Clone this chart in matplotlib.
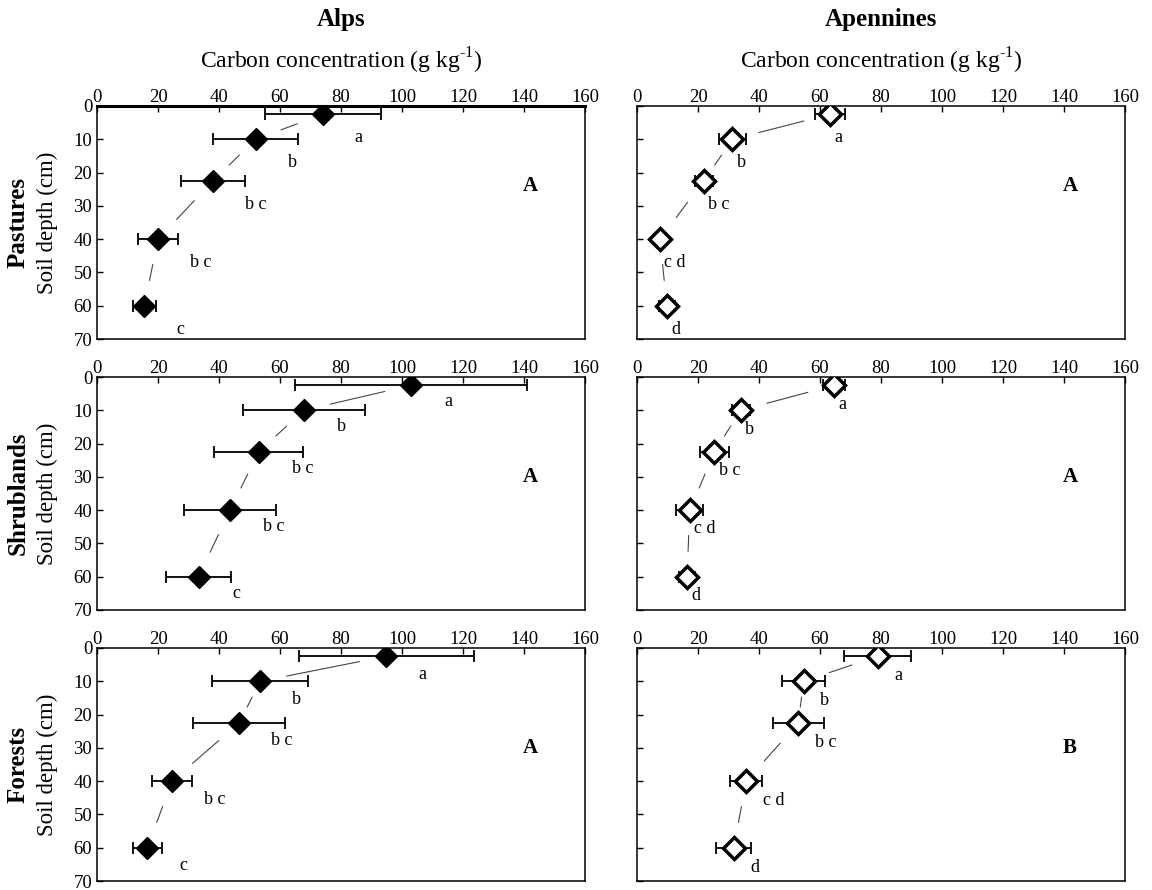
import math

import matplotlib

matplotlib.use("Agg")

import matplotlib.pyplot as plt

plt.rcParams["font.family"] = "serif"
plt.rcParams["font.serif"] = ["Liberation Serif", "DejaVu Serif"]
plt.rcParams["mathtext.fontset"] = "custom"
plt.rcParams["mathtext.rm"] = "Liberation Serif"

# soil depth of each sampled layer (cm)
DEPTHS = [2.5, 10, 22.5, 40, 60]

REGIONS = ["Alps", "Apennines"]
LAND_USES = ["Pastures", "Shrublands", "Forests"]

alps_pastures_mean = [74, 52, 38, 20, 15.5]
alps_pastures_err = [19, 14, 10.5, 6.5, 3.7]
alps_pastures_letters = ["a", "b", "b c", "b c", "c"]

apen_pastures_mean = [63.3, 31.3, 21.9, 7.5, 9.8]
apen_pastures_err = [5, 4.5, 3, 2, 2.5]
apen_pastures_letters = ["a", "b", "b c", "c d", "d"]

alps_shrub_mean = [103, 67.8, 53, 43.6, 33.3]
alps_shrub_err = [38, 20, 14.7, 15, 10.7]
alps_shrub_letters = ["a", "b", "b c", "b c", "c"]

apen_shrub_mean = [64.6, 34, 25.4, 17.3, 16.4]
apen_shrub_err = [3.5, 3, 4.7, 4.5, 2.5]
apen_shrub_letters = ["a", "b", "b c", "c d", "d"]

alps_forest_mean = [94.8, 53.5, 46.6, 24.6, 16.5]
alps_forest_err = [28.7, 15.7, 15, 6.7, 4.7]
alps_forest_letters = ["a", "b", "b c", "b c", "c"]

apen_forest_mean = [78.9, 54.6, 52.9, 35.8, 31.7]
apen_forest_err = [11, 7, 8.4, 5.2, 5.7]
apen_forest_letters = ["a", "b", "b c", "c d", "d"]

# letter comparing regions within each land use (row)
region_letters = [["A", "A"], ["A", "A"], ["A", "B"]]

panels = [
    [
        (alps_pastures_mean, alps_pastures_err, alps_pastures_letters),
        (apen_pastures_mean, apen_pastures_err, apen_pastures_letters),
    ],
    [
        (alps_shrub_mean, alps_shrub_err, alps_shrub_letters),
        (apen_shrub_mean, apen_shrub_err, apen_shrub_letters),
    ],
    [
        (alps_forest_mean, alps_forest_err, alps_forest_letters),
        (apen_forest_mean, apen_forest_err, apen_forest_letters),
    ],
]

# offsets (points) of the small letters next to each marker
letter_offsets = [
    [(23, -17), (3, -17)],
    [(24, -12), (3, -13.5)],
    [(23, -13), (12, -14)],
]

W, H = 1152, 890
col_x = [97, 637]
col_w = 488
row_top = [106, 377, 648]
row_h = 233

fig = plt.figure(figsize=(W / 100, H / 100), dpi=100)

for r, land_use in enumerate(LAND_USES):
    for c, region in enumerate(REGIONS):
        ax = fig.add_axes(
            [
                col_x[c] / W,
                1 - (row_top[r] + row_h) / H,
                col_w / W,
                row_h / H,
            ]
        )
        means, errs, letters = panels[r][c]

        ax.set_xlim(0, 160)
        ax.set_ylim(70, 0)
        ax.set_xticks(range(0, 161, 20))
        ax.set_yticks(range(0, 71, 10))
        ax.xaxis.tick_top()
        ax.tick_params(direction="in", length=4, width=1, labelsize=13.5)
        ax.tick_params(axis="x", pad=0.3)
        ax.tick_params(axis="y", pad=3.5, labelleft=(c == 0))
        for spine in ax.spines.values():
            spine.set_linewidth(1.1)
        if r == 0 and c == 0:
            ax.spines["top"].set_linewidth(2.2)

        # connecting line, broken around each marker
        for i in range(len(means) - 1):
            p1 = ax.transData.transform((means[i], DEPTHS[i]))
            p2 = ax.transData.transform((means[i + 1], DEPTHS[i + 1]))
            dist_pt = math.hypot(*(p2 - p1)) * 72 / fig.dpi
            shrink = min(19.5, 0.38 * dist_pt)
            ax.annotate(
                "",
                xy=(means[i + 1], DEPTHS[i + 1]),
                xytext=(means[i], DEPTHS[i]),
                arrowprops=dict(
                    arrowstyle="-",
                    color="#444444",
                    lw=0.8,
                    shrinkA=shrink,
                    shrinkB=shrink,
                ),
                zorder=1,
            )

        ax.errorbar(
            means,
            DEPTHS,
            xerr=errs,
            fmt="none",
            ecolor="black",
            elinewidth=1.3,
            capsize=4,
            capthick=1.3,
            zorder=3,
        )

        if c == 0:
            ax.plot(means, DEPTHS, "D", ms=11.7, mfc="black", mec="black",
                    mew=1, zorder=4)
        else:
            ax.plot(means, DEPTHS, "D", ms=11.2, mfc="white", mec="black",
                    mew=2.5, zorder=4)

        dx, dy = letter_offsets[r][c]
        for x, d, label in zip(means, DEPTHS, letters):
            ax.annotate(
                label,
                (x, d),
                xytext=(dx, dy),
                textcoords="offset points",
                ha="left",
                va="center",
                fontsize=13,
                zorder=5,
            )

        ax.text(
            142,
            24 if r == 0 else 30,
            region_letters[r][c],
            ha="center",
            va="center",
            fontsize=15,
            fontweight="bold",
        )

        if r == 0:
            cx = (col_x[c] + col_w / 2) / W
            fig.text(cx, 1 - 26 / H, region, ha="center", va="baseline",
                     fontsize=18, fontweight="bold")
            fig.text(
                cx,
                1 - 69 / H,
                r"Carbon concentration (g kg$^{\text{-1}}$)",
                ha="center",
                va="baseline",
                fontsize=17,
            )

    cy = 1 - (row_top[r] + row_h / 2) / H
    fig.text(18.5 / W, cy, land_use, rotation=90, ha="center", va="center",
             fontsize=18, fontweight="bold")
    fig.text(47 / W, cy, "Soil depth (cm)", rotation=90, ha="center",
             va="center", fontsize=16.5)

fig.savefig("out.png", dpi=100)
